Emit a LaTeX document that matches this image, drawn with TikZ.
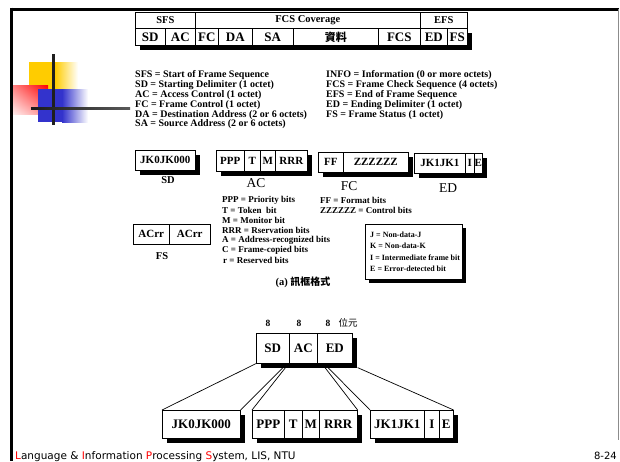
\documentclass[tikz,border=0pt]{standalone}
\usepackage{fontspec}
\setmainfont{Liberation Serif}
\newfontfamily\cjk{Noto Sans CJK TC}
\newfontfamily\footfont{DejaVu Sans}
\usetikzlibrary{calc,shadings}
\definecolor{logoyellow}{HTML}{FFCC00}
\definecolor{logoblue}{HTML}{3333CC}
\definecolor{logored}{HTML}{FF0000}
\newcommand\cellbox[7][]{\node[cell,#1,minimum width={#4pt-#2pt},minimum height={#6pt-#3pt}] (#5) at (#2,#3) {#7};}
% shadow strips as thick bars: x1 y1 x2 y2 of the box, offset d
\newcommand\boxshadow[5]{%
  \draw[black,line width=#5pt] (#3+#5/2,#2+#5) -- (#3+#5/2,#4+#5);
  \draw[black,line width=#5pt] (#1+#5,#4+#5/2) -- (#3+#5,#4+#5/2);}
\begin{document}
\begin{tikzpicture}[x=1pt,y=-1pt,
  cell/.style={draw,line width=0.6pt,fill=white,inner sep=0pt,anchor=north west,font=\bfseries\fontsize{11}{11}\selectfont},
  toprow/.style={font=\bfseries\fontsize{10.5}{10.5}\selectfont},
  bigcell/.style={font=\bfseries\fontsize{13}{13}\selectfont},
  botcell/.style={font=\bfseries\fontsize{13}{13}\selectfont},
  legend/.style={anchor=west,inner sep=0pt,font=\bfseries\fontsize{10}{10}\selectfont},
  aclegend/.style={anchor=west,inner sep=0pt,font=\bfseries\fontsize{9}{9}\selectfont},
  jlegend/.style={anchor=west,inner sep=0pt,font=\bfseries\fontsize{8}{8}\selectfont},
  biglabel/.style={inner sep=0pt,font=\fontsize{13.5}{13.5}\selectfont},
  smalllabel/.style={inner sep=0pt,font=\bfseries\fontsize{10.5}{10.5}\selectfont},
  conn/.style={line width=0.7pt}]
\useasboundingbox (0,0) rectangle (620,461);
\fill[white] (0,0) rectangle (620,461);

% logo
\shade[left color=logoyellow,right color=white] (55,62) rectangle (78,89);
\fill[logoyellow] (29,62) rectangle (55,90);
\shade[upper right=logored,upper left=logored!50!white,lower right=logored!45!white,lower left=logored!8!white] (13,85) rectangle (48,114);
\shade[left color=logoblue,right color=white] (62,89) rectangle (88,122);
\fill[logoblue] (38,89) rectangle (62,122);
\fill[black!88] (52,54) rectangle (54.5,125);
\shade[left color=black!90,right color=black!65] (31,107) rectangle (130,109.5);

% slide frame
\draw[line width=3pt] (10,9) -- (619,9);
\draw[line width=3pt] (11.7,7.5) -- (11.7,461);
\draw[black!45,line width=1pt] (618,9) -- (618,440);

% footer
\node[anchor=base west,inner sep=0pt,font=\footfont\fontsize{10.5}{10.5}\selectfont] (foot) at (15,459)
 {\textcolor{logored}{L}anguage \& \textcolor{logored}{I}nformation \textcolor{logored}{P}rocessing \textcolor{logored}{S}ystem, LIS, NTU};
\node[anchor=base east,inner sep=0pt,font=\footfont\fontsize{10}{10}\selectfont] (pageno) at (617,459) {8-24};

% ===== top frame format =====
\cellbox[toprow]{135}{12}{195}{sfs}{28}{SFS}
\cellbox[toprow]{195}{12}{420}{fcscov}{28}{FCS Coverage}
\cellbox[toprow]{420}{12}{467}{efs}{28}{EFS}
\cellbox[bigcell]{135}{28}{165}{tsd}{45}{SD}
\cellbox[bigcell]{165}{28}{195}{tac}{45}{AC}
\cellbox[bigcell]{195}{28}{218}{tfc}{45}{FC}
\cellbox[bigcell]{218}{28}{252}{tda}{45}{DA}
\cellbox[bigcell]{252}{28}{293}{tsa}{45}{SA}
\cellbox[bigcell]{293}{28}{378}{tinfo}{45}{\cjk\fontsize{11}{11}\selectfont 資料}
\cellbox[bigcell]{378}{28}{420}{tfcs}{45}{FCS}
\cellbox[bigcell]{420}{28}{447}{ted}{45}{ED}
\cellbox[bigcell]{447}{28}{467}{tfs}{45}{FS}
\boxshadow{135}{28}{467}{45}{5}

% legend
\node[legend] (l1) at (135,75.5) {SFS = Start of Frame Sequence};
\node[legend] (l2) at (135,85.3) {SD = Starting Delimiter (1 octet)};
\node[legend] (l3) at (135,95.1) {AC = Access Control (1 octet)};
\node[legend] (l4) at (135,104.9) {FC = Frame Control (1 octet)};
\node[legend] (l5) at (135,114.7) {DA = Destination Address (2 or 6 octets)};
\node[legend] (l6) at (135,124.5) {SA = Source Address (2 or 6 octets)};
\node[legend] (r1) at (326,75.5) {INFO = Information (0 or more octets)};
\node[legend] (r2) at (326,85.3) {FCS = Frame Check Sequence (4 octets)};
\node[legend] (r3) at (326,95.1) {EFS = End of Frame Sequence};
\node[legend] (r4) at (326,104.9) {ED = Ending Delimiter (1 octet)};
\node[legend] (r5) at (326,114.7) {FS = Frame Status (1 octet)};

% ===== field details =====
\cellbox{135}{150}{195}{msd}{170}{JK0JK000}
\boxshadow{135}{150}{195}{170}{5}
\cellbox{216}{150}{244}{mppp}{171}{PPP}
\cellbox{244}{150}{260}{mt}{171}{T}
\cellbox{260}{150}{275}{mm}{171}{M}
\cellbox{275}{150}{307}{mrrr}{171}{RRR}
\boxshadow{216}{150}{307}{171}{5}
\cellbox{318}{152}{343}{mff}{172}{FF}
\cellbox{343}{152}{408}{mzz}{172}{ZZZZZZ}
\boxshadow{318}{152}{408}{172}{5}
\cellbox{414}{153}{465}{mjk}{173}{JK1JK1}
\cellbox{465}{153}{474}{mi}{173}{I}
\cellbox{474}{153}{482}{me}{173}{E}
\boxshadow{414}{153}{482}{173}{5}

\node[smalllabel] (lsd) at (168,180) {SD};
\node[biglabel] (lac) at (256,183) {AC};
\node[biglabel] (lfc) at (349,186) {FC};
\node[biglabel] (led) at (448,188) {ED};

\node[aclegend] (a1) at (222,200.5) {PPP = Priority bits};
\node[aclegend] (a2) at (222,210.5) {T = Token\ \ bit};
\node[aclegend] (a3) at (222,220.5) {M = Monitor bit};
\node[aclegend] (a4) at (222,230.5) {RRR = Rservation bits};
\node[aclegend] (a5) at (222,240) {A = Address-recognized bits};
\node[aclegend] (a6) at (222,250) {C = Frame-copied bits};
\node[aclegend] (a7) at (223,260) {r = Reserved bits};
\node[aclegend] (f1) at (320,200.5) {FF = Format bits};
\node[aclegend] (f2) at (320,210.5) {ZZZZZZ = Control bits};

\cellbox{133}{224}{169}{fs1}{244}{ACrr}
\cellbox{169}{224}{210}{fs2}{244}{ACrr}
\node[smalllabel] (lfs) at (162,256) {FS};

\node[draw,line width=0.6pt,fill=white,anchor=north west,inner sep=0pt,minimum width=97pt,minimum height=55pt] (jbox) at (365,224) {};
\boxshadow{365}{224}{462}{279}{4}
\node[jlegend] (j1) at (370,234.5) {J = Non-data-J};
\node[jlegend] (j2) at (370,246) {K = Non-data-K};
\node[jlegend] (j3) at (370,257.5) {I = Intermediate frame bit};
\node[jlegend] (j4) at (370,269) {E = Error-detected bit};

\node[inner sep=0pt,font=\bfseries\fontsize{10.5}{10.5}\selectfont] (cap) at (303,282) {(a) {\cjk\fontsize{10}{10}\selectfont 訊框格式}};

% ===== bottom =====
\node[inner sep=0pt,font=\bfseries\fontsize{9.5}{9.5}\selectfont] (n1) at (268,323) {8};
\node[inner sep=0pt,font=\bfseries\fontsize{9.5}{9.5}\selectfont] (n2) at (299,323) {8};
\node[inner sep=0pt,font=\bfseries\fontsize{9.5}{9.5}\selectfont] (n3) at (328,323) {8};
\node[inner sep=0pt,font=\cjk\fontsize{9.5}{9.5}\selectfont] (n4) at (348,323) {位元};

\cellbox[botcell]{256}{333}{289}{bsd}{363}{SD}
\cellbox[botcell]{289}{333}{317}{bac}{363}{AC}
\cellbox[botcell]{317}{333}{352}{bed}{363}{ED}
\boxshadow{256}{333}{352}{363}{5}

\cellbox[botcell]{162}{410}{240}{b1}{438}{JK0JK000}
\boxshadow{162}{410}{240}{438}{5}
\cellbox[botcell]{252}{410}{284}{b2p}{438}{PPP}
\cellbox[botcell]{284}{410}{302}{b2t}{438}{T}
\cellbox[botcell]{302}{410}{319}{b2m}{438}{M}
\cellbox[botcell]{319}{410}{357}{b2r}{438}{RRR}
\boxshadow{252}{410}{357}{438}{5}
\cellbox[botcell]{370}{410}{424}{b3j}{438}{JK1JK1}
\cellbox[botcell]{424}{410}{439}{b3i}{438}{I}
\cellbox[botcell]{439}{410}{453}{b3e}{438}{E}
\boxshadow{370}{410}{453}{438}{5}

\coordinate (c1) at ($(bac.south west)+(-6,4)$);
\coordinate (c2) at ($(bac.south west)+(-3.5,4)$);
\coordinate (c3) at ($(bed.south west)+(8,4)$);
\coordinate (c4) at ($(bed.south west)+(11,4)$);
\coordinate (c5) at ($(bed.south east)+(5,4)$);
\draw[conn] (bsd.south west) -- (b1.north west);
\draw[conn] (c1) -- (b1.north east);
\draw[conn] (c2) -- (b2p.north west);
\draw[conn] (c3) -- (b2r.north east);
\draw[conn] (c4) -- (b3j.north west);
\draw[conn] (c5) -- (b3e.north east);
\end{tikzpicture}
\end{document}
